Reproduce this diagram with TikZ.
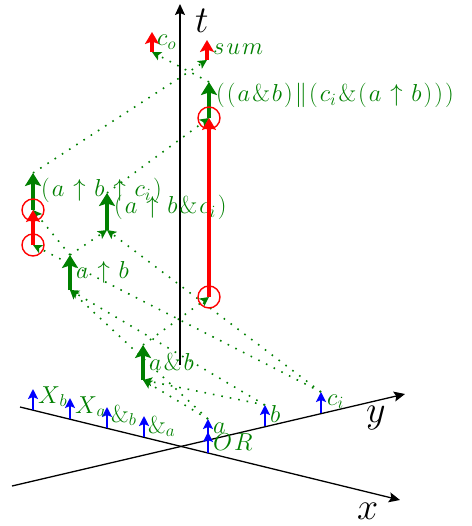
\RequirePackage{fix-cm}
\documentclass[tikz,border=0pt]{standalone}
\usetikzlibrary{arrows.meta}
\definecolor{gr}{rgb}{0,0.5,0}
\newcommand{\gp}{\mkern1.5mu}
\tikzset{
 axisline/.style={black, line width=1.3pt, -{Stealth[length=11pt,width=10pt,inset=2pt]}},
 inarrow/.style={blue, line width=1.8pt, -{Stealth[length=10pt,width=10pt,inset=2pt]}},
 outarrow/.style={gr, line width=4.5pt, -{Stealth[length=13pt,width=16pt,inset=2.5pt]}},
 waitarrow/.style={red, line width=3.5pt, -{Stealth[length=12pt,width=14pt,inset=2.5pt]}},
 wire/.style={gr, line width=1.6pt, dash pattern=on 1.6pt off 7pt, -{Stealth[length=9pt,width=9pt,inset=2pt]}},
 ring/.style={red, line width=1.4pt, circle, minimum size=22pt, inner sep=0pt, draw},
 lbl/.style={gr, font=\fontsize{24.5}{28}\selectfont, anchor=base west, inner sep=0pt},
 axlbl/.style={black, font=\fontsize{38}{44}\selectfont, anchor=base west, inner sep=0pt},
}
\begin{document}
\begin{tikzpicture}[x=1pt,y=-1pt]
\useasboundingbox (0,0) rectangle (471,526);
% axes
\coordinate (xs) at (20,407); \coordinate (xe) at (400,500);
\coordinate (ys) at (12,486); \coordinate (ye) at (405,394);
\coordinate (ts) at (180,365); \coordinate (te) at (180,4);
% inputs
\coordinate (Xb0) at (33,410); \coordinate (Xb1) at (33,389);
\coordinate (Xa0) at (70,419); \coordinate (Xa1) at (70,398);
\coordinate (Ab0) at (107,428); \coordinate (Ab1) at (107,407);
\coordinate (Aa0) at (144,437); \coordinate (Aa1) at (144,416);
\coordinate (OR0) at (208,453); \coordinate (OR1) at (208,432);
\coordinate (a0) at (208,440); \coordinate (a1) at (208,419);
\coordinate (b0) at (265,426); \coordinate (b1) at (265,405);
\coordinate (c0) at (321,413); \coordinate (c1) at (321,392);
% gates
\coordinate (ab0) at (143,380); \coordinate (ab1) at (143,345);
\coordinate (nab0) at (70,290); \coordinate (nab1) at (70,255);
\coordinate (nabc0) at (107,230); \coordinate (nabc1) at (107,193);
\coordinate (nn0) at (33,210); \coordinate (nn1) at (33,173);
\coordinate (or0) at (209,118); \coordinate (or1) at (209,82);
\coordinate (w1s) at (33,245);
\coordinate (w2s) at (209,297);
\coordinate (co0) at (152,52); \coordinate (co1) at (152,32);
\coordinate (sum0) at (207,60); \coordinate (sum1) at (207,40);

% dotted wires
\draw[wire] (a1) -- (ab0);
\draw[wire] (b1) -- (ab0);
\draw[wire] (a1) -- (nab0);
\draw[wire] (b1) -- (nab0);
\draw[wire] (ab1) -- (w2s);
\draw[wire] (nab1) -- (nabc0);
\draw[wire] (c1) -- (nabc0);
\draw[wire] (c1) -- (w1s);
\draw[wire] (nab1) -- (nn0);
\draw[wire] (nabc1) -- (or0);
\draw[wire] (or1) -- (co0);
\draw[wire] (nn1) -- (sum0);

% axes
\draw[axisline] (xs) -- (xe);
\draw[axisline] (ys) -- (ye);
\draw[axisline] (ts) -- (te);
\node[axlbl] (tl) at (195,33) {$t$};
\node[axlbl] (yl) at (366,422) {$y$};
\node[axlbl] (xl) at (357,519) {$x$};

% inputs
\draw[inarrow] (Xb0) -- (Xb1);
\draw[inarrow] (Xa0) -- (Xa1);
\draw[inarrow] (Ab0) -- (Ab1);
\draw[inarrow] (Aa0) -- (Aa1);
\draw[inarrow] (OR0) -- (OR1);
\draw[inarrow] (a0) -- (a1);
\draw[inarrow] (b0) -- (b1);
\draw[inarrow] (c0) -- (c1);
\node[lbl] (lXb) at (38,403) {$X_{\gp b}$};
\node[lbl] (lXa) at (75,413) {$X_{\gp a}$};
\node[lbl] (lAb) at (111,422) {$\&_b$};
\node[lbl] (lAa) at (148,433) {$\&_a$};
\node[lbl] (lOR) at (213,450) {$O\gp R$};
\node[lbl] (la) at (213,433) {$a$};
\node[lbl] (lb) at (270,422) {$b$};
\node[lbl] (lc) at (327,405) {$c_i$};

% gate outputs
\draw[outarrow] (ab0) -- (ab1);
\draw[outarrow] (nab0) -- (nab1);
\draw[outarrow] (nabc0) -- (nabc1);
\draw[outarrow] (nn0) -- (nn1);
\draw[outarrow] (or0) -- (or1);
\node[lbl] (lab) at (149,370) {$a\gp\&\gp b$};
\node[lbl] (lnab) at (76,278) {$a\gp\uparrow\gp b$};
\node[lbl] (lnabc) at (114,214) {$(\gp a\gp\uparrow\gp b\gp\&\gp c_i\gp)$};
\node[lbl] (lnn) at (41,197) {$(\gp a\gp\uparrow\gp b\gp\uparrow\gp c_i\gp)$};
\node[lbl] (lor) at (216,102) {$(\gp(\gp a\gp\&\gp b\gp)\gp\|\gp(\gp c_i\gp\&\gp(\gp a\gp\uparrow\gp b\gp)\gp)\gp)$};

% waiting (red)
\node[ring] (r1) at (w1s) {};
\node[ring] (r2) at (nn0) {};
\node[ring] (r3) at (w2s) {};
\node[ring] (r4) at (or0) {};
\draw[waitarrow] (w1s) -- (nn0);
\draw[waitarrow] (w2s) -- (or0);
\draw[waitarrow] (co0) -- (co1);
\draw[waitarrow] (sum0) -- (sum1);
\node[lbl] (lco) at (157,46) {$c_o$};
\node[lbl] (lsum) at (213,55) {$s\gp u\gp m$};
\end{tikzpicture}
\end{document}
